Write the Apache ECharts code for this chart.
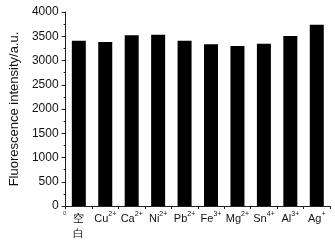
<!DOCTYPE html>
<html>
<head>
<meta charset="utf-8">
<script src="https://cdn.jsdelivr.net/npm/echarts@6/dist/echarts.min.js"></script>
<style>
  html, body { margin: 0; padding: 0; background: #fff; }
  #chart { width: 335px; height: 244px; }
</style>
</head>
<body>
<div id="chart"></div>
<script>
// ion names, charge superscripts and measured intensities
const ions = ['空\n白', 'Cu', 'Ca', 'Ni', 'Pb', 'Fe', 'Mg', 'Sn', 'Al', 'Ag']
const charges = ['', '2+', '2+', '2+', '2+', '3+', '2+', '4+', '3+', '+']
const intensity = [3408, 3381, 3519, 3532, 3408, 3334, 3299, 3346, 3505, 3738]
const yTicks = [0, 500, 1000, 1500, 2000, 2500, 3000, 3500, 4000]

const labelFont = 'Liberation Sans, Arial, sans-serif'

const chart = echarts.init(document.getElementById('chart'))
chart.setOption({
  animation: false,
  grid: { left: 64, right: 5, top: 12, bottom: 38 },
  xAxis: {
    type: 'category',
    data: ions.map((n, i) => ({ value: n + '|' + charges[i] })),
    axisLine: { lineStyle: { color: '#222', width: 1 } },
    axisTick: { show: true, length: 3, lineStyle: { color: '#222' } },
    axisLabel: {
      margin: 5,
      interval: 0,
      color: '#111',
      fontFamily: labelFont,
      fontSize: 11,
      lineHeight: 15,
      formatter: v => {
        const [n, c] = v.split('|')
        return c ? '{b|' + n + '}{s|' + c + '}' : '{b|' + n + '}'
      },
      rich: {
        b: { fontSize: 11, fontFamily: labelFont, color: '#111', lineHeight: 15 },
        s: { fontSize: 7, fontFamily: labelFont, color: '#111', verticalAlign: 'top', padding: [0, 0, 5, 0] }
      }
    }
  },
  yAxis: {
    type: 'value',
    min: yTicks[0],
    max: yTicks[yTicks.length - 1],
    interval: 500,
    name: 'Fluorescence intensity/a.u.',
    nameLocation: 'middle',
    nameGap: 44,
    nameTextStyle: { color: '#111', fontFamily: labelFont, fontSize: 13 },
    axisLine: { show: true, lineStyle: { color: '#222', width: 1 } },
    axisTick: { show: true, length: 4, lineStyle: { color: '#222' } },
    minorTick: { show: true, splitNumber: 2, length: 2, lineStyle: { color: '#222' } },
    splitLine: { show: false },
    axisLabel: {
      margin: 7,
      color: '#111',
      fontFamily: labelFont,
      fontSize: 12,
      formatter: v => String(v)
    }
  },
  graphic: [{
    type: 'text',
    left: 63,
    top: 210,
    style: { text: '0', fontSize: 6, fill: '#444', fontFamily: labelFont }
  }],
  series: [{
    type: 'bar',
    data: intensity,
    barWidth: 14,
    itemStyle: { color: '#000' }
  }]
})
</script>
</body>
</html>
